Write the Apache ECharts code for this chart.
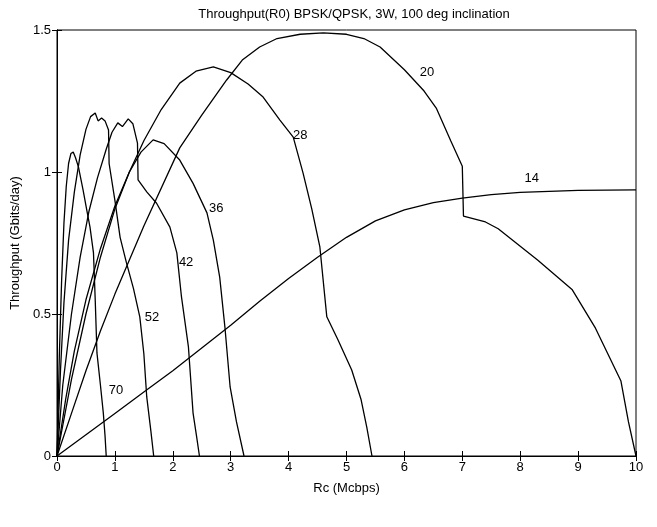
<!DOCTYPE html>
<html>
<head>
<meta charset="UTF-8">
<title>index.html</title>
<style>
html, body { margin: 0; padding: 0; background: #fff; }
#main { width: 657px; height: 527px; }
</style>
</head>
<body>
<div id="main"></div>
<script src="https://cdn.jsdelivr.net/npm/echarts@6/dist/echarts.min.js"></script>
<script>
  // [Rc (Mcbps), throughput (Gbits/day)] per elevation curve
  var curve70 = [[0,0],[0.04,0.35],[0.08,0.62],[0.12,0.82],[0.16,0.95],[0.2,1.03],[0.24,1.065],[0.28,1.07],[0.32,1.05],[0.37,1.018],[0.45,0.937],[0.52,0.86],[0.57,0.806],[0.63,0.715],[0.66,0.55],[0.69,0.363],[0.75,0.25],[0.8,0.151],[0.83,0.07],[0.85,0]];
  var curve52 = [[0,0],[0.06,0.3],[0.12,0.54],[0.2,0.76],[0.3,0.93],[0.4,1.06],[0.5,1.15],[0.58,1.195],[0.66,1.208],[0.71,1.18],[0.77,1.19],[0.83,1.18],[0.89,1.148],[0.9,1.03],[1.0,0.9],[1.09,0.77],[1.2,0.68],[1.32,0.59],[1.43,0.49],[1.5,0.36],[1.55,0.208],[1.62,0.09],[1.67,0]];
  var curve42 = [[0,0],[0.1,0.25],[0.25,0.5],[0.4,0.7],[0.55,0.86],[0.7,0.98],[0.85,1.08],[0.95,1.14],[1.05,1.173],[1.13,1.16],[1.23,1.187],[1.31,1.17],[1.39,1.102],[1.4,0.972],[1.55,0.93],[1.72,0.89],[1.95,0.806],[2.07,0.715],[2.15,0.56],[2.27,0.384],[2.35,0.151],[2.41,0.07],[2.46,0]];
  var curve36 = [[0,0],[0.15,0.2],[0.3,0.37],[0.5,0.55],[0.75,0.73],[1.0,0.88],[1.25,1.0],[1.45,1.07],[1.66,1.113],[1.85,1.1],[2.12,1.042],[2.35,0.96],[2.59,0.856],[2.7,0.76],[2.81,0.63],[2.9,0.454],[2.99,0.243],[3.1,0.12],[3.23,0]];
  var curve28 = [[0,0],[0.25,0.27],[0.5,0.5],[0.75,0.7],[1.0,0.87],[1.25,1.0],[1.5,1.11],[1.8,1.22],[2.12,1.313],[2.4,1.355],[2.7,1.37],[3.0,1.35],[3.3,1.31],[3.56,1.264],[3.85,1.183],[4.08,1.123],[4.25,0.996],[4.4,0.87],[4.54,0.736],[4.66,0.49],[4.85,0.41],[5.09,0.303],[5.25,0.2],[5.35,0.102],[5.44,0]];
  var curve20 = [[0,0],[0.25,0.15],[0.5,0.3],[0.75,0.44],[1.0,0.57],[1.5,0.81],[2.12,1.085],[2.5,1.2],[2.93,1.324],[3.2,1.394],[3.5,1.44],[3.8,1.47],[4.2,1.485],[4.6,1.49],[5.0,1.485],[5.3,1.47],[5.58,1.44],[6.0,1.36],[6.34,1.285],[6.55,1.225],[6.8,1.11],[7.0,1.02],[7.02,0.845],[7.4,0.824],[7.62,0.8],[8.3,0.69],[8.9,0.585],[9.3,0.45],[9.74,0.264],[9.87,0.12],[10,0]];
  var curve14 = [[0,0],[0.5,0.075],[1,0.15],[1.5,0.225],[2,0.3],[2.5,0.38],[3,0.46],[3.5,0.545],[4,0.625],[4.5,0.7],[5,0.77],[5.5,0.828],[6,0.867],[6.5,0.892],[7,0.908],[7.5,0.92],[8,0.928],[9,0.935],[10,0.937]];

  var curveNames = ['70', '52', '42', '36', '28', '20', '14'];
  var curves = [curve70, curve52, curve42, curve36, curve28, curve20, curve14];
  // where each curve's number is written
  var labelPos = [[1.02,0.232],[1.64,0.489],[2.23,0.683],[2.75,0.87],[4.2,1.13],[6.39,1.352],[8.2,0.979]];

  var font = 'Liberation Sans, Arial, sans-serif';
  var myChart = echarts.init(document.getElementById('main'));

  var series = [];
  for (var i = 0; i < curves.length; i++) {
    series.push({
      name: curveNames[i],
      type: 'line',
      data: curves[i],
      symbol: 'none',
      smooth: false,
      lineStyle: { color: '#000', width: 1.3 }
    });
  }
  series.push({
    type: 'scatter',
    symbolSize: 0,
    itemStyle: { opacity: 1 },
    data: labelPos.map(function(p, i) { return { value: p, name: curveNames[i] }; }),
    label: {
      show: true,
      position: 'inside',
      formatter: '{b}',
      color: '#000',
      opacity: 1,
      fontFamily: font,
      fontSize: 13
    }
  });

  var tickCommon = { show: true, inside: true, length: 5, lineStyle: { color: '#000', width: 1 } };

  var option = {
    animation: false,
    backgroundColor: '#fff',
    title: {
      text: 'Throughput(R0) BPSK/QPSK, 3W, 100 deg inclination',
      left: 349,
      textAlign: 'center',
      top: 3,
      textStyle: { fontFamily: font, fontSize: 13, fontWeight: 'normal', color: '#000' }
    },
    grid: {
      left: 57, right: 21, top: 30, bottom: 71,
      show: true, borderColor: '#000', borderWidth: 1
    },
    xAxis: [{
      type: 'value', min: 0, max: 10, interval: 1,
      name: 'Rc (Mcbps)', nameLocation: 'middle', nameGap: 26,
      nameTextStyle: { fontFamily: font, fontSize: 13, color: '#000' },
      axisLine: { show: true, lineStyle: { color: '#000' } },
      axisTick: tickCommon,
      axisLabel: { color: '#000', fontFamily: font, fontSize: 13, margin: 5 },
      splitLine: { show: false }
    }, {
      type: 'value', min: 0, max: 10, interval: 1, position: 'top',
      axisLine: { show: true, lineStyle: { color: '#000' } },
      axisTick: tickCommon,
      axisLabel: { show: false },
      splitLine: { show: false }
    }],
    yAxis: [{
      type: 'value', min: 0, max: 1.5, interval: 0.5,
      name: 'Throughput (Gbits/day)', nameLocation: 'middle', nameGap: 35,
      nameTextStyle: { fontFamily: font, fontSize: 13, color: '#000' },
      axisLine: { show: true, lineStyle: { color: '#000' } },
      axisTick: tickCommon,
      axisLabel: { color: '#000', fontFamily: font, fontSize: 13, margin: 6 },
      splitLine: { show: false }
    }, {
      type: 'value', min: 0, max: 1.5, interval: 0.5, position: 'right',
      axisLine: { show: true, lineStyle: { color: '#000' } },
      axisTick: tickCommon,
      axisLabel: { show: false },
      splitLine: { show: false }
    }],
    series: series
  };
  myChart.setOption(option);
</script>
</body>
</html>
